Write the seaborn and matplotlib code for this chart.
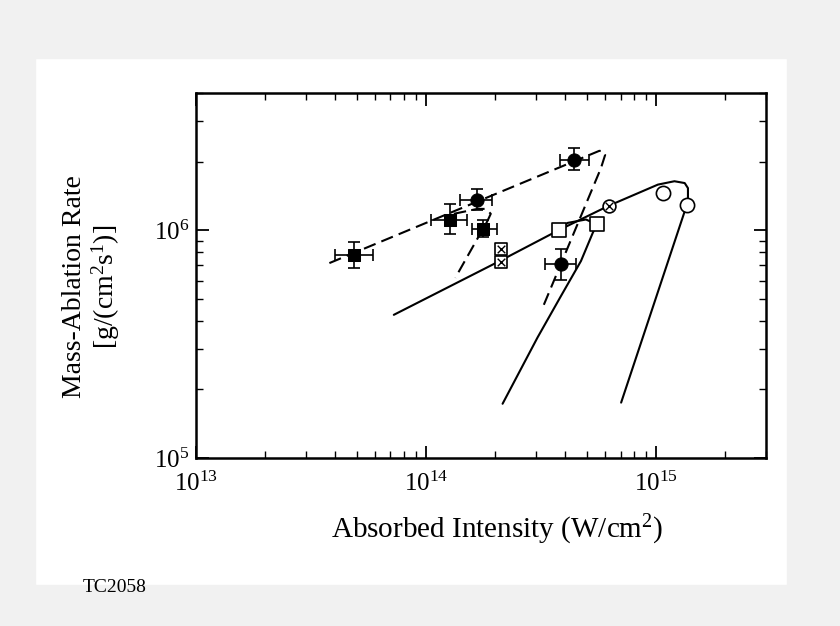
import numpy as np
import seaborn as sns
import matplotlib.pyplot as plt
from matplotlib.patches import Rectangle
from matplotlib.ticker import LogLocator, NullFormatter

# dashed curves
dash_upper_x = [3.8e13, 5.66e14, 5.9e14, 6.0e14, 5.75e14, 3.21e14]
dash_upper_y = [7.17e5, 2.23e6, 2.22e6, 2.14e6, 1.87e6, 4.57e5]
dash_hook_x = [1.32e14, 1.67e14, 1.82e14, 1.91e14, 1.85e14, 1.77e14, 1.34e14]
dash_hook_y = [1.18e6, 1.24e6, 1.24e6, 1.18e6, 1.10e6, 1.017e6, 6.18e5]

# solid curves
solid_long_x = [7.24e13, 2.11e14, 3.77e14, 6.22e14, 1.017e15, 1.20e15, 1.33e15,
                1.374e15, 1.374e15, 1.365e15, 1.337e15, 7.04e14]
solid_long_y = [4.25e5, 7.36e5, 1.0e6, 1.28e6, 1.585e6, 1.64e6, 1.61e6,
                1.53e6, 1.36e6, 1.295e6, 1.23e6, 1.75e5]
solid_short_x = [3.77e14, 4.12e14, 4.95e14, 5.53e14, 5.30e14, 4.71e14, 3.86e14, 3.05e14, 2.15e14]
solid_short_y = [1.0e6, 1.076e6, 1.114e6, 1.06e6, 9.73e5, 7.32e5, 5.15e5, 3.38e5, 1.73e5]

# measured points with error bars
sq_x = [4.85e13, 1.265e14, 1.77e14]
sq_y = [7.8e5, 1.106e6, 1.017e6]
sq_xlo = [4.03e13, 1.05e14, 1.59e14]
sq_xhi = [5.89e13, 1.51e14, 2.03e14]
sq_ylo = [6.84e5, 9.58e5, 9.31e5]
sq_yhi = [8.89e5, 1.30e6, 1.11e6]

ci_x = [1.67e14, 4.41e14, 3.85e14]
ci_y = [1.36e6, 2.04e6, 7.12e5]
ci_xlo = [1.41e14, 3.83e14, 3.28e14]
ci_xhi = [1.94e14, 5.12e14, 4.48e14]
ci_ylo = [1.23e6, 1.84e6, 6.03e5]
ci_yhi = [1.51e6, 2.29e6, 8.24e5]

# simulation points
open_sq_x = [3.77e14, 5.53e14]
open_sq_y = [1.0e6, 1.06e6]
cross_sq_x = [2.11e14, 2.11e14]
cross_sq_y = [8.23e5, 7.25e5]
cross_ci_x = [6.22e14]
cross_ci_y = [1.28e6]
open_ci_x = [1.07e15, 1.365e15]
open_ci_y = [1.456e6, 1.295e6]

sns.set_theme(style="ticks")
plt.rcParams["font.family"] = ["Liberation Serif", "DejaVu Serif"]
plt.rcParams["mathtext.fontset"] = "custom"
plt.rcParams["mathtext.rm"] = "Liberation Serif"
plt.rcParams["mathtext.it"] = "Liberation Serif:italic"
plt.rcParams["mathtext.bf"] = "Liberation Serif:bold"
plt.rcParams["text.color"] = "black"
plt.rcParams["axes.labelcolor"] = "black"
plt.rcParams["xtick.color"] = "black"
plt.rcParams["ytick.color"] = "black"

fig = plt.figure(figsize=(8.4, 6.26), dpi=100)
fig.patch.set_facecolor("white")
# grey scanned border
for (x0, y0, w, h) in [(0, 0.907, 1, 0.093), (0, 0, 0.042, 1),
                       (0.937, 0.06, 0.063, 0.94), (0, 0, 1, 0.066)]:
    fig.patches.append(Rectangle((x0, y0), w, h, transform=fig.transFigure,
                                 color="#f1f1f1", zorder=-5))

ax = fig.add_axes([0.2333, 0.2684, 0.6786, 0.583])
ax.set_xscale("log")
ax.set_yscale("log")

lw = 1.5
dash = (6, 3)
sns.lineplot(x=dash_upper_x, y=dash_upper_y, sort=False, estimator=None, color="black",
             lw=lw, ax=ax).lines[-1].set_dashes(dash)
sns.lineplot(x=dash_hook_x, y=dash_hook_y, sort=False, estimator=None, color="black",
             lw=lw, ax=ax).lines[-1].set_dashes(dash)
sns.lineplot(x=solid_long_x, y=solid_long_y, sort=False, estimator=None, color="black", lw=lw, ax=ax)
sns.lineplot(x=solid_short_x, y=solid_short_y, sort=False, estimator=None, color="black", lw=lw, ax=ax)

err_kw = dict(fmt="none", ecolor="black", elinewidth=1.2, capsize=4.5, capthick=1.2, zorder=3)
ax.errorbar(sq_x, sq_y,
            xerr=[np.array(sq_x) - sq_xlo, np.array(sq_xhi) - sq_x],
            yerr=[np.array(sq_y) - sq_ylo, np.array(sq_yhi) - sq_y], **err_kw)
ax.errorbar(ci_x, ci_y,
            xerr=[np.array(ci_x) - ci_xlo, np.array(ci_xhi) - ci_x],
            yerr=[np.array(ci_y) - ci_ylo, np.array(ci_yhi) - ci_y], **err_kw)

sns.scatterplot(x=sq_x, y=sq_y, marker="s", s=85, color="black", edgecolor="black", ax=ax, zorder=4)
sns.scatterplot(x=ci_x, y=ci_y, marker="o", s=90, color="black", edgecolor="black", ax=ax, zorder=4)
sns.scatterplot(x=open_sq_x, y=open_sq_y, marker="s", s=95, color="white", edgecolor="black",
                linewidth=1.2, ax=ax, zorder=4)
sns.scatterplot(x=cross_sq_x, y=cross_sq_y, marker="s", s=70, color="white", edgecolor="black",
                linewidth=1.2, ax=ax, zorder=4)
sns.scatterplot(x=cross_sq_x, y=cross_sq_y, marker="x", s=30, color="black", linewidth=1.0, ax=ax, zorder=5)
sns.scatterplot(x=cross_ci_x, y=cross_ci_y, marker="o", s=85, color="white", edgecolor="black",
                linewidth=1.2, ax=ax, zorder=4)
sns.scatterplot(x=cross_ci_x, y=cross_ci_y, marker="x", s=30, color="black", linewidth=1.0, ax=ax, zorder=5)
sns.scatterplot(x=open_ci_x, y=open_ci_y, marker="o", s=105, color="white", edgecolor="black",
                linewidth=1.2, ax=ax, zorder=4)

ax.set_xlim(1e13, 3e15)
ax.set_ylim(1e5, 4e6)
ax.xaxis.set_major_locator(LogLocator(base=10))
ax.yaxis.set_major_locator(LogLocator(base=10))
ax.xaxis.set_minor_formatter(NullFormatter())
ax.yaxis.set_minor_formatter(NullFormatter())
ax.tick_params(which="both", direction="in", top=True, right=True, colors="black")
ax.tick_params(which="major", length=9, width=1.3, labelsize=18)
ax.tick_params(which="minor", length=5, width=1.0)
ax.tick_params(axis="x", which="major", pad=10)
ax.tick_params(axis="y", which="major", pad=5)
for sp in ax.spines.values():
    sp.set_linewidth(1.8)
    sp.set_color("black")
    sp.set_visible(True)

fig.text(497 / 840, 1 - 530 / 626, "Absorbed Intensity (W/cm$^2$)", ha="center", va="center",
         fontsize=21, color="black")
fig.text(92 / 840, 1 - 287 / 626, "Mass-Ablation Rate\n[g/(cm$^2$s$^1$)]", rotation=90,
         ha="center", va="center", multialignment="center", fontsize=20, linespacing=1.1,
         color="black")
fig.text(83 / 840, 1 - 587 / 626, "TC2058", ha="left", va="center", fontsize=14, color="black")

fig.savefig("out.png", dpi=100, facecolor="white")
